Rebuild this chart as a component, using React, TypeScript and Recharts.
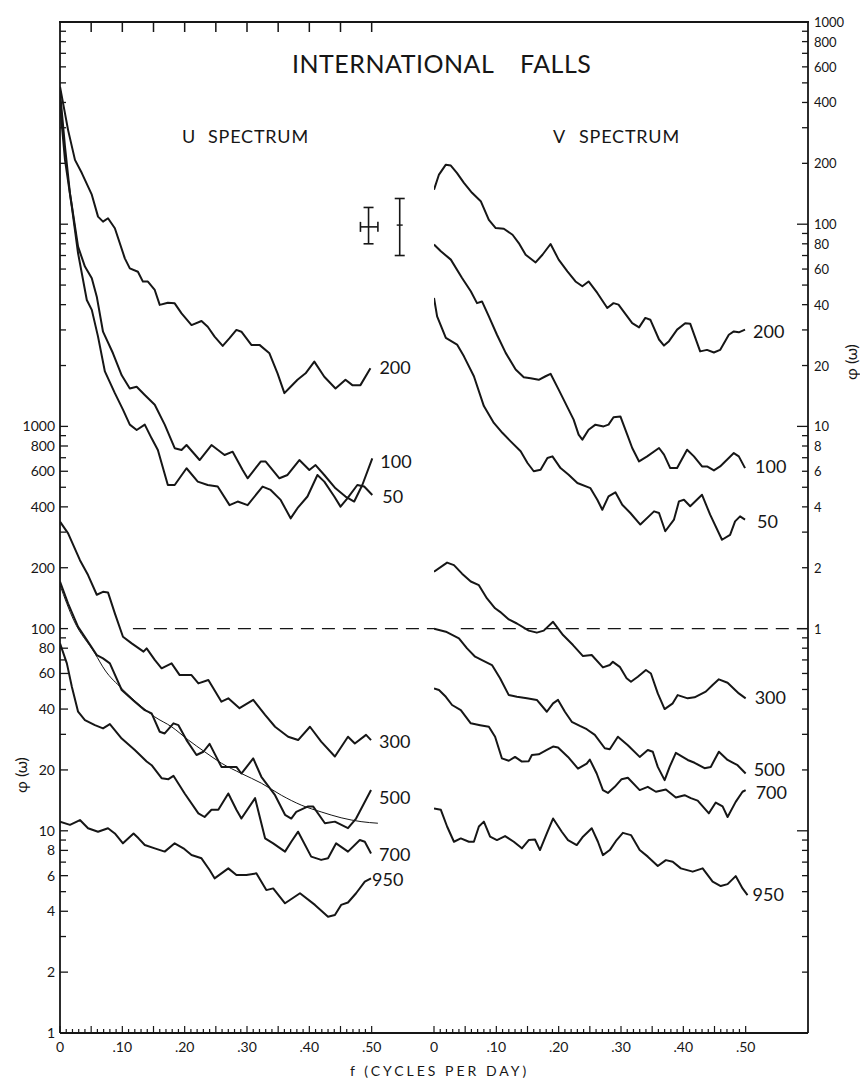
import React from 'react';
import { ComposedChart, Line, XAxis, YAxis, ReferenceLine, ReferenceDot, Scatter, ErrorBar } from 'recharts';

type P = [number, number];

// f (cycles per day), phi(omega)
// U spectrum, upper group (read on the right-hand scale)
const u200: P[] = [[0, 479], [0.013, 292], [0.024, 208], [0.035, 179], [0.051, 140], [0.061, 109], [0.069, 103], [0.077, 107], [0.088, 95.5], [0.104, 67.8], [0.112, 60.5], [0.125, 58.2], [0.133, 52], [0.141, 52], [0.152, 47.3], [0.16, 39.9], [0.173, 40.9], [0.184, 40.6], [0.195, 36.2], [0.211, 31.7], [0.227, 33.2], [0.237, 31.1], [0.248, 27.8], [0.261, 25], [0.272, 27.3], [0.283, 30], [0.291, 29.4], [0.307, 25.3], [0.32, 25.3], [0.336, 23], [0.349, 18.3], [0.36, 14.6], [0.37, 15.7], [0.381, 17], [0.394, 18.3], [0.408, 20.9], [0.424, 17.6], [0.442, 15.4], [0.458, 17], [0.469, 16], [0.482, 16], [0.498, 19.4]];
const u100: P[] = [[0, 453], [0.008, 242], [0.016, 142], [0.029, 77.4], [0.04, 61.7], [0.051, 54], [0.059, 43.8], [0.069, 29.4], [0.085, 23], [0.099, 17.9], [0.112, 15.4], [0.123, 15.7], [0.136, 14.3], [0.152, 12.8], [0.168, 10.2], [0.184, 7.8], [0.195, 7.64], [0.203, 8.09], [0.224, 6.82], [0.243, 8.09], [0.264, 7.22], [0.277, 7.5], [0.293, 6.09], [0.301, 5.54], [0.322, 6.7], [0.33, 6.7], [0.352, 5.54], [0.365, 5.75], [0.384, 6.82], [0.4, 6.09], [0.41, 6.44], [0.424, 5.75], [0.442, 4.94], [0.458, 4.5], [0.472, 4.25], [0.485, 5.13], [0.501, 6.95]];
const u50: P[] = [[0, 389], [0.008, 208], [0.019, 122], [0.029, 71.8], [0.043, 42.2], [0.051, 37.7], [0.061, 27.8], [0.072, 18.7], [0.088, 14.6], [0.101, 12.1], [0.112, 10.2], [0.123, 9.6], [0.136, 10.2], [0.147, 8.73], [0.157, 7.64], [0.173, 5.13], [0.184, 5.13], [0.203, 6.21], [0.221, 5.33], [0.237, 5.13], [0.253, 5.04], [0.272, 4.08], [0.285, 4.25], [0.301, 4.08], [0.325, 5.04], [0.338, 4.85], [0.354, 4.33], [0.37, 3.51], [0.381, 3.94], [0.397, 4.5], [0.413, 5.75], [0.424, 5.33], [0.44, 4.5], [0.45, 4.01], [0.461, 4.41], [0.477, 5.13], [0.488, 5.04], [0.501, 4.58]];

// U spectrum, lower group (left-hand scale)
const u300: P[] = [[0, 338], [0.013, 296], [0.032, 218], [0.045, 184], [0.059, 147], [0.069, 152], [0.077, 151], [0.088, 119], [0.101, 91.1], [0.115, 84.5], [0.134, 76.9], [0.139, 79.8], [0.152, 70], [0.163, 63.6], [0.179, 67.3], [0.192, 58.9], [0.211, 58.9], [0.222, 53.6], [0.238, 55.7], [0.259, 43.5], [0.27, 45.2], [0.288, 40.4], [0.31, 44.4], [0.329, 37.4], [0.345, 32.7], [0.366, 29.2], [0.382, 28.1], [0.401, 32.7], [0.419, 27.6], [0.441, 23.3], [0.462, 29.2], [0.473, 27], [0.491, 29.8], [0.499, 28.1]];
const u500: P[] = [[0, 171], [0.013, 133], [0.029, 102], [0.045, 86.1], [0.059, 73.9], [0.069, 71.2], [0.08, 67.3], [0.099, 49.7], [0.12, 43.5], [0.136, 39.5], [0.147, 38.1], [0.16, 30.9], [0.168, 30.3], [0.182, 34], [0.19, 33.3], [0.203, 28.1], [0.219, 23.7], [0.23, 24.6], [0.24, 26.9], [0.259, 20.7], [0.283, 20.7], [0.291, 19.2], [0.31, 22.8], [0.323, 18.5], [0.345, 15], [0.361, 12], [0.371, 11.5], [0.379, 12.4], [0.398, 13.2], [0.406, 13.2], [0.425, 10.9], [0.441, 11.1], [0.462, 10.3], [0.475, 11.5], [0.499, 15.9]];
const u700: P[] = [[0, 84.5], [0.011, 67.3], [0.019, 51.6], [0.029, 38.8], [0.04, 35.3], [0.056, 33.3], [0.069, 32.1], [0.08, 33.7], [0.099, 28.6], [0.12, 25.1], [0.139, 22], [0.147, 21.1], [0.163, 18.2], [0.174, 18], [0.182, 18.7], [0.2, 15.3], [0.222, 12.2], [0.232, 11.7], [0.243, 12.7], [0.254, 12.7], [0.27, 15.3], [0.283, 12.7], [0.291, 11.5], [0.313, 14.5], [0.329, 9.18], [0.342, 8.67], [0.361, 7.89], [0.371, 8.83], [0.382, 9.9], [0.403, 7.45], [0.419, 7.18], [0.43, 7.31], [0.443, 8.67], [0.462, 7.89], [0.481, 9], [0.489, 8.83], [0.499, 7.73]];
const u950: P[] = [[0, 11.1], [0.016, 10.7], [0.032, 11.3], [0.045, 10.3], [0.061, 9.9], [0.077, 10.3], [0.088, 9.7], [0.101, 8.67], [0.118, 9.7], [0.126, 9.18], [0.136, 8.51], [0.152, 8.19], [0.168, 7.89], [0.184, 8.67], [0.198, 8.19], [0.211, 7.59], [0.227, 7.31], [0.24, 6.4], [0.248, 5.82], [0.27, 6.52], [0.283, 6.04], [0.299, 6.04], [0.315, 6.16], [0.331, 5.09], [0.342, 5.19], [0.361, 4.38], [0.385, 4.91], [0.409, 4.3], [0.43, 3.76], [0.441, 3.83], [0.451, 4.3], [0.462, 4.42], [0.475, 4.91], [0.489, 5.6], [0.499, 5.82]];
// thin smooth curve drawn through the 500 mb U spectrum
const uFit: P[] = [[0, 164], [0.022, 110], [0.056, 75.4], [0.072, 62.4], [0.099, 50.6], [0.131, 41.1], [0.152, 36.6], [0.179, 32.7], [0.206, 28.1], [0.232, 24.6], [0.259, 21.6], [0.291, 19.2], [0.323, 17.2], [0.355, 15], [0.387, 13.4], [0.419, 12.4], [0.451, 11.6], [0.483, 11.1], [0.51, 10.9]];

// V spectrum, upper group (right-hand scale)
const v200: P[] = [[0, 148], [0.008, 176], [0.019, 197], [0.027, 195], [0.037, 179], [0.048, 160], [0.061, 143], [0.075, 130], [0.088, 105], [0.099, 95.7], [0.112, 95], [0.126, 88.7], [0.136, 80.7], [0.147, 70.6], [0.163, 64.7], [0.174, 70.6], [0.187, 79.8], [0.2, 66.8], [0.214, 58.5], [0.227, 52.1], [0.238, 49.3], [0.248, 52.1], [0.262, 45.7], [0.278, 38.5], [0.288, 40.7], [0.296, 40], [0.304, 37.1], [0.318, 32.4], [0.329, 30.9], [0.339, 34.4], [0.347, 33.7], [0.361, 26.9], [0.369, 25.1], [0.377, 26.4], [0.39, 30.1], [0.403, 32.4], [0.411, 32.2], [0.427, 23.5], [0.438, 23.9], [0.449, 23.2], [0.459, 23.9], [0.473, 28.4], [0.481, 29.5], [0.489, 29.2], [0.499, 30.1]];
const v100: P[] = [[0, 79.3], [0.011, 73.5], [0.027, 66.8], [0.045, 54.2], [0.059, 46.6], [0.069, 40.7], [0.077, 41.5], [0.088, 35], [0.101, 28.4], [0.115, 23.1], [0.131, 19.1], [0.144, 17.5], [0.155, 17.3], [0.168, 17], [0.179, 17.7], [0.187, 18.2], [0.2, 15.2], [0.216, 12.1], [0.224, 10.8], [0.232, 9.1], [0.238, 8.6], [0.248, 9.63], [0.259, 10.2], [0.272, 10], [0.28, 10.2], [0.288, 11.1], [0.299, 11.2], [0.31, 9.1], [0.318, 7.82], [0.329, 6.71], [0.342, 7.11], [0.361, 7.82], [0.369, 7.25], [0.379, 6.22], [0.39, 6.22], [0.406, 7.67], [0.417, 7.11], [0.43, 6.34], [0.438, 6.34], [0.449, 6.06], [0.459, 6.34], [0.47, 6.84], [0.481, 7.38], [0.489, 7.11], [0.499, 6.22]];
const v50: P[] = [[0, 43.2], [0.005, 35], [0.019, 27.4], [0.037, 25.4], [0.048, 22.2], [0.064, 17.7], [0.08, 12.6], [0.096, 10.4], [0.11, 9.27], [0.123, 8.43], [0.139, 7.53], [0.15, 6.59], [0.16, 6], [0.171, 6.11], [0.182, 6.98], [0.19, 7.11], [0.203, 6.22], [0.216, 5.77], [0.23, 5.25], [0.251, 4.95], [0.262, 4.34], [0.27, 3.87], [0.28, 4.51], [0.291, 4.72], [0.302, 4.1], [0.315, 3.73], [0.331, 3.27], [0.353, 3.8], [0.361, 3.73], [0.371, 3.03], [0.385, 3.46], [0.393, 4.26], [0.401, 4.34], [0.411, 4.03], [0.43, 4.59], [0.443, 3.66], [0.462, 2.75], [0.475, 2.91], [0.483, 3.39], [0.491, 3.59], [0.499, 3.46]];

// V spectrum, lower group (left-hand scale)
const v300: P[] = [[0, 191], [0.021, 212], [0.032, 206], [0.045, 187], [0.059, 171], [0.072, 164], [0.085, 141], [0.098, 126], [0.106, 121], [0.12, 111], [0.133, 106], [0.152, 97.7], [0.165, 95.5], [0.176, 97.7], [0.191, 108], [0.207, 92.9], [0.223, 82.9], [0.239, 73.1], [0.253, 74], [0.271, 64.3], [0.282, 66.1], [0.287, 68.5], [0.298, 64.7], [0.309, 56.8], [0.316, 54.6], [0.327, 57.8], [0.34, 62.4], [0.348, 60], [0.359, 47.8], [0.37, 40], [0.383, 42.7], [0.391, 46.9], [0.407, 45.2], [0.418, 45.7], [0.436, 48.8], [0.447, 52.6], [0.457, 56.1], [0.471, 54], [0.489, 47.8], [0.5, 45.2]];
const v500: P[] = [[0, 100], [0.019, 96.5], [0.04, 89.5], [0.053, 79.8], [0.066, 72.6], [0.077, 69.9], [0.093, 66], [0.106, 56.8], [0.12, 46.9], [0.133, 46], [0.149, 45.2], [0.165, 44.4], [0.181, 38.8], [0.191, 42.7], [0.199, 44.4], [0.21, 38.8], [0.221, 34.6], [0.234, 33], [0.245, 31.8], [0.258, 29.8], [0.274, 25.6], [0.282, 25.3], [0.295, 29.2], [0.311, 26.5], [0.33, 23.2], [0.343, 25.1], [0.351, 24.6], [0.359, 20.7], [0.37, 17.8], [0.378, 20.7], [0.388, 24.3], [0.407, 22.4], [0.418, 21.7], [0.434, 20.4], [0.444, 20.7], [0.457, 24.6], [0.471, 22.4], [0.487, 21.1], [0.5, 19.2]];
const v700: P[] = [[0, 50.6], [0.008, 49.7], [0.019, 46], [0.029, 41.9], [0.043, 39.5], [0.059, 34], [0.074, 33.3], [0.088, 32.7], [0.098, 29.2], [0.109, 22.8], [0.12, 22.2], [0.13, 23.2], [0.141, 22], [0.152, 22.1], [0.157, 23.7], [0.168, 23.9], [0.181, 25.1], [0.191, 26.1], [0.199, 25.8], [0.215, 23.2], [0.231, 20.3], [0.245, 21.5], [0.25, 22.5], [0.261, 19.2], [0.271, 15.9], [0.279, 15.4], [0.29, 16.5], [0.301, 18], [0.311, 18.3], [0.33, 15.9], [0.343, 16.5], [0.356, 15.6], [0.372, 16], [0.388, 14.6], [0.402, 15], [0.412, 14.5], [0.423, 14.1], [0.441, 12.2], [0.452, 13.8], [0.463, 13.2], [0.471, 11.7], [0.484, 13.9], [0.495, 15.6], [0.5, 15.9]];
const v950: P[] = [[0, 12.9], [0.011, 12.7], [0.021, 10.5], [0.032, 8.83], [0.043, 9.17], [0.056, 8.83], [0.064, 8.83], [0.072, 10.5], [0.08, 11.1], [0.09, 9.35], [0.101, 9], [0.114, 9.42], [0.128, 8.83], [0.141, 8.19], [0.152, 9], [0.162, 9.06], [0.17, 8.03], [0.181, 9.71], [0.191, 11.5], [0.205, 9.89], [0.215, 9], [0.229, 8.5], [0.239, 9.35], [0.253, 10.3], [0.263, 8.83], [0.271, 7.58], [0.282, 8.03], [0.293, 9], [0.303, 9.77], [0.316, 9.52], [0.33, 8.03], [0.343, 7.45], [0.359, 6.7], [0.372, 7.16], [0.383, 7.03], [0.396, 6.52], [0.415, 6.28], [0.431, 6.52], [0.447, 5.6], [0.46, 5.33], [0.471, 5.45], [0.484, 5.97], [0.495, 5.19], [0.503, 4.81]];

// error bar symbols beside the U spectrum (right-hand scale)
const crossBar = [{ f: 0.495, v: 97, ey: [17, 24], ex: [0.013, 0.015] }];
const longBar = [{ f: 0.545, v: 99, ey: [29, 35] }];

const freqLabels = [0, 0.1, 0.2, 0.3, 0.4, 0.5];
const scaleLabels = [1, 2, 4, 6, 8, 10, 20, 40, 60, 80, 100, 200, 400, 600, 800, 1000];
const topTicks = [0.05, 0.1, 0.15, 0.2, 0.25, 0.3, 0.35, 0.4, 0.45, 0.5];
const freqTicks = Array.from({ length: 51 }, (_, i) => i / 100);

const logTicks = (lo: number, hi: number) => {
  const out: number[] = [];
  for (let k = lo; k < hi; k++) {
    for (let m = 1; m <= 9; m++) out.push(Number((m * Math.pow(10, k)).toPrecision(6)));
  }
  out.push(Math.pow(10, hi));
  return out;
};
const loTicks = logTicks(0, 5);
const hiTicks = logTicks(-2, 3);

// frame geometry shared by both panels
const FRAME_TOP = 22;
const PLOT_LEFT = 60;
const PANEL_W = 374;
const F_MAX = 0.6;

const INK = '#161616';
const FONT = 'Lato, "DejaVu Sans", sans-serif';

const pts = (a: P[]) => a.map(([f, v]) => ({ f, v }));
const isLabel = (v: number) => scaleLabels.some((l) => Math.abs(l - v) < l * 1e-6);
const isDecade = (v: number) => Math.abs(Math.log10(v) - Math.round(Math.log10(v))) < 1e-6;

const uCurves = [
  { tag: '200', data: u200, axis: 'hi', dx: 9, dy: 6 },
  { tag: '100', data: u100, axis: 'hi', dx: 8, dy: 10 },
  { tag: '50', data: u50, axis: 'hi', dx: 10, dy: 8 },
  { tag: '300', data: u300, axis: 'lo', dx: 8, dy: 8 },
  { tag: '500', data: u500, axis: 'lo', dx: 8, dy: 14 },
  { tag: '700', data: u700, axis: 'lo', dx: 8, dy: 8 },
  { tag: '950', data: u950, axis: 'lo', dx: 1, dy: 8 },
];
const vCurves = [
  { tag: '200', data: v200, axis: 'hi', dx: 8, dy: 8 },
  { tag: '100', data: v100, axis: 'hi', dx: 10, dy: 5 },
  { tag: '50', data: v50, axis: 'hi', dx: 12, dy: 8 },
  { tag: '300', data: v300, axis: 'lo', dx: 9, dy: 6 },
  { tag: '500', data: v500, axis: 'lo', dx: 8, dy: 2 },
  { tag: '700', data: v700, axis: 'lo', dx: 10, dy: 9 },
  { tag: '950', data: v950, axis: 'lo', dx: 5, dy: 6 },
];

const Tag = (props: any) => {
  const vb = props.viewBox;
  if (!vb) return null;
  return (
    <text x={vb.x + (vb.width || 0) / 2 + props.tx} y={vb.y + (vb.height || 0) / 2 + props.ty}
      fontSize={18} fontFamily={FONT} fill={INK}>{props.tag}</text>
  );
};

const freqTick = (p: any) => {
  const n = Math.round(p.payload.value * 100);
  const lab = freqLabels.some((l) => Math.round(l * 100) === n);
  return (
    <g>
      <line x1={p.x} x2={p.x} y1={p.y} y2={p.y - (n % 5 === 0 ? 7 : 4)} stroke={INK} strokeWidth={1.2} />
      {lab && (
        <text x={p.x} y={p.y + 19} textAnchor="middle" fontSize={14} fontFamily={FONT} fill={INK}>
          {n === 0 ? '0' : '.' + n}
        </text>
      )}
    </g>
  );
};

const loTick = (p: any) => {
  const v = p.payload.value;
  const lab = isLabel(v);
  return (
    <g>
      <line x1={p.x} x2={p.x + (lab || isDecade(v) ? 8 : 6)} y1={p.y} y2={p.y} stroke={INK} strokeWidth={1.3} />
      {lab && (
        <text x={p.x - 5} y={p.y + 5} textAnchor="end" fontSize={14} fontFamily={FONT} fill={INK}>{v}</text>
      )}
    </g>
  );
};

const hiTick = (p: any) => {
  const v = p.payload.value;
  const lab = v >= 1 && isLabel(v);
  return (
    <g>
      <line x1={p.x} x2={p.x - (isDecade(v) ? 11 : 6)} y1={p.y} y2={p.y} stroke={INK} strokeWidth={1.3} />
      {lab && (
        <text x={p.x + 6} y={p.y + 5} fontSize={13} fontFamily={FONT} fill={INK}>{v}</text>
      )}
    </g>
  );
};

const axisStyle = { stroke: INK, strokeWidth: 1.8 };

function curveLines(curves: typeof uCurves) {
  return curves.map((c) => (
    <Line key={'l' + c.axis + c.tag} data={pts(c.data)} dataKey="v" yAxisId={c.axis} type="linear"
      dot={false} stroke={INK} strokeWidth={2} strokeLinejoin="round" isAnimationActive={false} />
  ));
}

function curveTags(curves: typeof uCurves) {
  return curves.map((c) => {
    const [f, v] = c.data[c.data.length - 1];
    return (
      <ReferenceDot key={'t' + c.axis + c.tag} x={f} y={v} yAxisId={c.axis} r={0} stroke="none" fill="none"
        label={<Tag tag={c.tag} tx={c.dx} ty={c.dy} />} />
    );
  });
}

export default function App() {
  return (
    <div style={{ position: 'absolute', left: 0, top: 0, width: 860, height: 1082, background: '#fff' }}>
      <div style={{ position: 'absolute', left: 0, top: 0 }}>
        <ComposedChart width={PLOT_LEFT + PANEL_W} height={1082} margin={{ top: FRAME_TOP, right: 0, bottom: 0, left: 0 }}>
          <XAxis type="number" dataKey="f" domain={[0, F_MAX]} allowDataOverflow ticks={freqTicks} interval={0}
            tickSize={0} tickMargin={0} tick={freqTick} height={49} axisLine={axisStyle} />
          <YAxis yAxisId="lo" scale="log" domain={[1, 100000]} allowDataOverflow ticks={loTicks} interval={0}
            tickSize={0} tickMargin={0} tick={loTick} width={PLOT_LEFT} axisLine={axisStyle} />
          <YAxis yAxisId="hi" hide width={0} scale="log" domain={[0.01, 1000]} allowDataOverflow />
          <ReferenceLine yAxisId="lo" segment={[{ x: 0.117, y: 100 }, { x: F_MAX, y: 100 }]} stroke={INK}
            strokeWidth={1.4} strokeDasharray="13 8" />
          {curveLines(uCurves)}
          <Line data={pts(uFit)} dataKey="v" yAxisId="lo" type="monotone" dot={false} stroke={INK}
            strokeWidth={1} isAnimationActive={false} />
          {curveTags(uCurves)}
          <Scatter data={crossBar} dataKey="v" yAxisId="hi" shape={() => <g />} isAnimationActive={false}>
            <ErrorBar dataKey="ey" direction="y" width={5} stroke={INK} strokeWidth={1.6} isAnimationActive={false} />
            <ErrorBar dataKey="ex" direction="x" width={5} stroke={INK} strokeWidth={1.6} isAnimationActive={false} />
          </Scatter>
          <Scatter data={longBar} dataKey="v" yAxisId="hi" isAnimationActive={false}
            shape={(p: any) => <line x1={p.cx - 3} x2={p.cx + 3} y1={p.cy} y2={p.cy} stroke={INK} strokeWidth={1.4} />}>
            <ErrorBar dataKey="ey" direction="y" width={5} stroke={INK} strokeWidth={1.6} isAnimationActive={false} />
          </Scatter>
        </ComposedChart>
      </div>
      <div style={{ position: 'absolute', left: PLOT_LEFT + PANEL_W - 4, top: 0 }}>
        <ComposedChart width={PANEL_W + 56} height={1082} margin={{ top: FRAME_TOP, right: 0, bottom: 0, left: 4 }}>
          <XAxis type="number" dataKey="f" domain={[0, F_MAX]} allowDataOverflow ticks={freqTicks} interval={0}
            tickSize={0} tickMargin={0} tick={freqTick} height={49} axisLine={axisStyle} />
          <YAxis yAxisId="lo" scale="log" domain={[1, 100000]} allowDataOverflow tick={false} tickSize={0}
            width={0} axisLine={axisStyle} />
          <YAxis yAxisId="hi" orientation="right" scale="log" domain={[0.01, 1000]} allowDataOverflow
            ticks={hiTicks} interval={0} tickSize={0} tickMargin={0} tick={hiTick} width={52} axisLine={axisStyle} />
          <ReferenceLine yAxisId="lo" segment={[{ x: 0.043, y: 100 }, { x: F_MAX, y: 100 }]} stroke={INK}
            strokeWidth={1.4} strokeDasharray="13 8" />
          {curveLines(vCurves)}
          {curveTags(vCurves)}
        </ComposedChart>
      </div>
      <svg width={860} height={1082} style={{ position: 'absolute', left: 0, top: 0, pointerEvents: 'none' }}
        fontFamily={FONT} fill={INK}>
        {/* top edge of the frame, with the 0.05 ticks of the U panel */}
        <rect x={PLOT_LEFT - 1} y={FRAME_TOP - 1} width={2 * PANEL_W + 2} height={2} fill={INK} />
        {topTicks.map((t) => {
          const x = PLOT_LEFT + (t / F_MAX) * PANEL_W;
          return <rect key={t} x={x - 0.75} y={FRAME_TOP} width={1.5} height={10} fill={INK} />;
        })}
        <rect x={424} y={46} width={18} height={33} fill="#fff" />
        <text x={292} y={73} fontSize={25} letterSpacing={0.5}>INTERNATIONAL</text>
        <text x={520} y={73} fontSize={25} letterSpacing={0.5}>FALLS</text>
        <text x={182} y={143} fontSize={18}>U</text>
        <text x={208} y={143} fontSize={18} letterSpacing={0.8}>SPECTRUM</text>
        <text x={553} y={143} fontSize={18}>V</text>
        <text x={579} y={143} fontSize={18} letterSpacing={0.8}>SPECTRUM</text>
        <text x={350} y={1076} fontSize={14} letterSpacing={3}>f (CYCLES PER DAY)</text>
        <text transform="translate(27 775) rotate(-90)" textAnchor="middle" fontSize={16}>φ (ω)</text>
        <text transform="translate(857 362) rotate(-90)" textAnchor="middle" fontSize={16}>φ (ω)</text>
      </svg>
    </div>
  );
}
